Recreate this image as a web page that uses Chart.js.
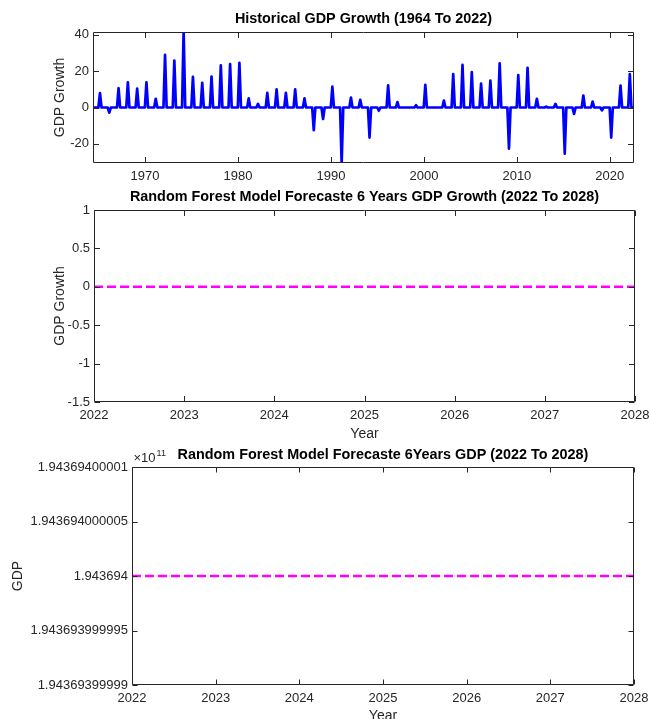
<!DOCTYPE html>
<html lang="en">
<head>
  <meta charset="UTF-8">
  <title>GDP Growth - Random Forest Forecast</title>
  <script src="https://cdn.jsdelivr.net/npm/chart.js"></script>
  <style>
    html, body { margin: 0; padding: 0; background: #fff; overflow: hidden; }
    #wrap { position: relative; width: 649px; height: 719px; overflow: hidden; }
    #wrap canvas { position: absolute; left: 0; top: 0; }
  </style>
</head>
<body>
  <div id="wrap">
    <canvas id="histChart" width="649" height="760"></canvas>
    <canvas id="growthChart" width="649" height="760"></canvas>
    <canvas id="gdpChart" width="649" height="760"></canvas>
  </div>
  <script>
    // --- data ---
    // historical growth: one value per year, the line sits at 0 between years
    const histYears = [1965, 1966, 1967, 1968, 1969, 1970, 1971, 1972, 1973, 1974,
                       1975, 1976, 1977, 1978, 1979, 1980, 1981, 1982, 1983, 1984,
                       1985, 1986, 1987, 1988, 1989, 1990, 1991, 1992, 1993, 1994,
                       1995, 1996, 1997, 1998, 1999, 2000, 2001, 2002, 2003, 2004,
                       2005, 2006, 2007, 2008, 2009, 2010, 2011, 2012, 2013, 2014,
                       2015, 2016, 2017, 2018, 2019, 2020, 2021, 2022];
    const histGrowth = [7.9, -2.8, 10.6, 13.8, 10.4, 13.8, 4.8, 29.0, 25.8, 42.0,
                        16.8, 13.5, 17.0, 23.2, 23.8, 24.6, 5.0, 2.0, 8.0, 10.0,
                        8.0, 10.0, 5.0, -12.4, -6.3, 11.5, -30.5, 5.5, 4.2, -16.5,
                        -1.8, 12.2, 3.0, 0, 1.3, 12.4, 0, 3.8, 18.4, 23.4,
                        19.4, 13.1, 14.8, 24.3, -22.6, 17.8, 21.8, 4.8, 0.5, 2.0,
                        -25.4, -3.5, 6.6, 3.3, -1.6, -16.5, 12.0, 18.3];
    const histXRange = [1964.4, 2022.6];
    const histYRange = [-30.5, 41.5];
    const peakOffset = 0.15;     // each yearly value sits a little into the year
    const baseHalfWidth = 0.17;  // zero samples either side of it

    const forecastYears  = [2022, 2023, 2024, 2025, 2026, 2027, 2028];
    const forecastGrowth = [0, 0, 0, 0, 0, 0, 0];
    const forecastGDP    = [194369400000, 194369400000, 194369400000, 194369400000,
                            194369400000, 194369400000, 194369400000];
    const gdpTickLabels  = ['1.94369399999', '1.943693999995', '1.943694',
                            '1.943694000005', '1.94369400001'];

    const histPoints = [{ x: histXRange[0], y: 0 }];
    histYears.forEach((yr, i) => {
      histPoints.push({ x: yr + peakOffset - baseHalfWidth, y: 0 });
      histPoints.push({ x: yr + peakOffset, y: histGrowth[i] });
      histPoints.push({ x: yr + peakOffset + baseHalfWidth, y: 0 });
    });
    histPoints.push({ x: histXRange[1], y: 0 });

    // --- look ---
    const FONT = "'Liberation Sans', Arial, Helvetica, sans-serif";
    const AX = '#262626';
    const TITLE_SIZE = 14.4;
    const TITLE_LH = TITLE_SIZE * 1.2;
    Chart.defaults.font.family = FONT;
    Chart.defaults.color = AX;
    Chart.defaults.devicePixelRatio = 1;

    // matlab style: closed box, ticks pointing in on all four sides
    const matlabAxes = {
      id: 'matlabAxes',
      afterDraw(chart, args, opts) {
        const { ctx, chartArea: a, scales: { x, y } } = chart;
        const L = opts.tickLen || 5.5;
        const l = Math.round(a.left) + 0.5, r = Math.round(a.right) - 0.5;
        const t = Math.round(a.top) + 0.5, b = Math.round(a.bottom) - 0.5;
        ctx.save();
        ctx.strokeStyle = AX;
        ctx.lineWidth = 1;
        ctx.beginPath();
        x.ticks.forEach(tk => {
          const px = Math.round(x.getPixelForValue(tk.value)) + 0.5;
          ctx.moveTo(px, b); ctx.lineTo(px, b - L);
          ctx.moveTo(px, t); ctx.lineTo(px, t + L);
        });
        y.ticks.forEach(tk => {
          const py = Math.round(y.getPixelForValue(tk.value)) + 0.5;
          ctx.moveTo(l, py); ctx.lineTo(l + L, py);
          ctx.moveTo(r, py); ctx.lineTo(r - L, py);
        });
        ctx.rect(l, t, r - l, b - t);
        ctx.stroke();
        if (opts.exponent) {
          ctx.fillStyle = AX;
          ctx.textBaseline = 'alphabetic';
          ctx.font = '13px ' + FONT;
          const base = '\u00d710';
          ctx.fillText(base, l + 1, t - 6);
          const w = ctx.measureText(base).width;
          ctx.font = '9px ' + FONT;
          ctx.fillText(opts.exponent, l + 2 + w, t - 12);
        }
        ctx.restore();
      }
    };

    function makeChart(id, cfg) {
      const box = cfg.box;
      const titleTop = cfg.titleY - TITLE_LH / 2;
      return new Chart(document.getElementById(id), {
        type: 'line',
        data: { datasets: [{
          data: cfg.points,
          borderColor: cfg.color,
          borderWidth: cfg.width,
          borderDash: cfg.dash || [],
          borderJoinStyle: 'round',
          pointRadius: 0,
          tension: 0,
          fill: false
        }] },
        options: {
          responsive: false,
          animation: false,
          events: [],
          layout: { padding: { left: 0, right: 649 - box.right, top: titleTop, bottom: 760 - cfg.xBoxBottom } },
          plugins: {
            legend: { display: false },
            tooltip: { enabled: false },
            title: {
              display: true, text: cfg.title, color: '#000', fullSize: false,
              font: { size: TITLE_SIZE, weight: 'bold' },
              padding: { top: 0, bottom: box.top - titleTop - TITLE_LH }
            },
            matlabAxes: { tickLen: cfg.tickLen, exponent: cfg.exponent }
          },
          scales: {
            x: {
              type: 'linear', min: cfg.xMin, max: cfg.xMax,
              grid: { display: false, drawTicks: false },
              border: { display: false },
              ticks: {
                stepSize: cfg.xStep, includeBounds: false, autoSkip: false, maxRotation: 0,
                padding: 6, font: { size: 13 }, color: AX,
                callback: v => String(v)
              },
              title: cfg.xTitle
                ? { display: true, text: cfg.xTitle, color: AX, font: { size: 14 }, padding: { top: 0, bottom: cfg.xTitlePad } }
                : { display: false },
              afterFit: s => {
                s.height = cfg.xBoxBottom - box.bottom;
                s.paddingLeft = 0; s.paddingRight = 0;
              }
            },
            y: {
              min: cfg.yMin, max: cfg.yMax,
              grid: { display: false, drawTicks: false },
              border: { display: false },
              ticks: {
                stepSize: cfg.yStep, includeBounds: false, autoSkip: false,
                padding: 4, font: { size: 13 }, color: AX,
                callback: cfg.yLabel || (v => String(v))
              },
              title: { display: true, text: cfg.yTitle, color: AX, font: { size: 14 }, padding: { top: cfg.yTitleX - 8.4, bottom: 0 } },
              afterFit: s => {
                s.width = box.left;
                s.paddingTop = 0; s.paddingBottom = 0;
              }
            }
          }
        },
        plugins: [matlabAxes]
      });
    }

    // 1) historical growth
    makeChart('histChart', {
      points: histPoints, color: '#0000FF', width: 2.7,
      title: 'Historical GDP Growth (1964 To 2022)',
      box: { left: 93, right: 634, top: 32, bottom: 163 },
      titleY: 19.5, xBoxBottom: 200,
      xMin: histXRange[0], xMax: histXRange[1], xStep: 10,
      yMin: histYRange[0], yMax: histYRange[1], yStep: 20,
      yTitle: 'GDP Growth', yTitleX: 60, tickLen: 5.5
    });

    // 2) forecast growth
    makeChart('growthChart', {
      points: forecastYears.map((yr, i) => ({ x: yr, y: forecastGrowth[i] })),
      color: '#FF00FF', width: 2.5, dash: [9, 4],
      title: 'Random Forest Model Forecaste 6 Years GDP Growth (2022 To 2028)',
      box: { left: 94, right: 635, top: 210, bottom: 402 },
      titleY: 197.5, xBoxBottom: 444, xTitle: 'Year', xTitlePad: 1.6,
      xMin: 2022, xMax: 2028, xStep: 1,
      yMin: -1.5, yMax: 1, yStep: 0.5,
      yTitle: 'GDP Growth', yTitleX: 60, tickLen: 5.5
    });

    // 3) forecast GDP
    makeChart('gdpChart', {
      points: forecastYears.map((yr, i) => ({ x: yr, y: forecastGDP[i] })),
      color: '#FF00FF', width: 2.5, dash: [9, 4],
      title: 'Random Forest Model Forecaste 6Years GDP (2022 To 2028)',
      box: { left: 132, right: 634, top: 467, bottom: 685 },
      titleY: 455.5, xBoxBottom: 732, xTitle: 'Year', xTitlePad: 7.6,
      xMin: 2022, xMax: 2028, xStep: 1,
      yMin: 194369399999, yMax: 194369400001, yStep: 0.5,
      yLabel: (v, i) => gdpTickLabels[i],
      yTitle: 'GDP', yTitleX: 18.5, tickLen: 5, exponent: '11'
    });
  </script>
</body>
</html>
